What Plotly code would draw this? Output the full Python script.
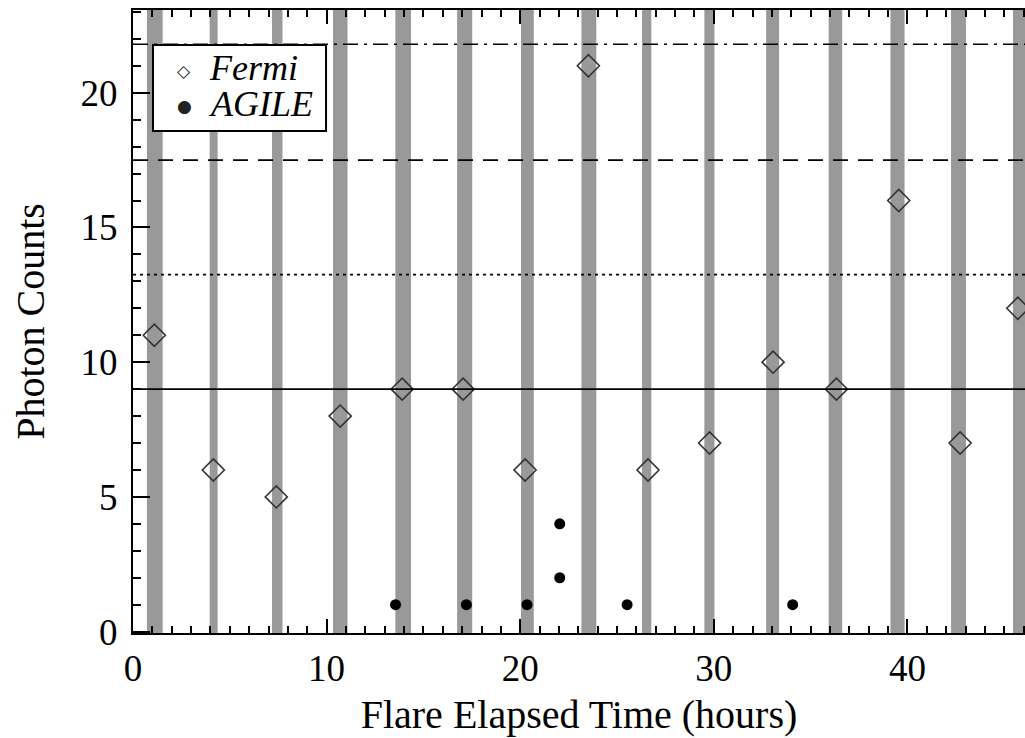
import plotly.graph_objects as go

# Fermi exposure windows (hours)
band_start = [0.72, 3.96, 7.18, 10.33, 13.55, 16.74, 20.04, 23.16, 26.29, 29.51, 32.70, 35.93, 39.12, 42.25, 45.45]
band_end = [1.53, 4.37, 7.72, 11.08, 14.36, 17.52, 20.70, 23.93, 26.77, 30.03, 33.37, 36.63, 39.85, 43.02, 46.30]

# Fermi photon counts
fermi_time = [1.10, 4.15, 7.40, 10.70, 13.90, 17.05, 20.25, 23.52, 26.60, 29.78, 33.06, 36.33, 39.55, 42.72, 45.70]
fermi_counts = [11, 6, 5, 8, 9, 9, 6, 21, 6, 7, 10, 9, 16, 7, 12]

# AGILE photon counts
agile_time = [13.56, 17.22, 20.35, 22.04, 22.04, 25.52, 34.07]
agile_counts = [1, 1, 1, 4, 2, 1, 1]

# reference levels
levels = [9.0, 13.25, 17.5, 21.8]
level_dash = ["solid", "3px,4px", "15px,10px", "15px,6px,3px,6px"]

x_range = [0, 46.07]
y_range = [-0.05, 23.07]
y_ticks = [0, 5, 10, 15, 20]
x_ticks = [0, 10, 20, 30, 40]

# legend entries
legend_names = ["Fermi", "AGILE"]
legend_glyphs = ["◇", "●"]

FONT = "Liberation Serif"

fig = go.Figure()

for s, e in zip(band_start, band_end):
    fig.add_vrect(x0=s, x1=e, fillcolor="#999999", opacity=1, line_width=0, layer="below")

for lv, d in zip(levels, level_dash):
    fig.add_hline(y=lv, line=dict(color="black", width=1.6, dash=d), layer="above")

fig.add_trace(go.Scatter(
    x=fermi_time, y=fermi_counts, mode="markers", showlegend=False, name="Fermi",
    marker=dict(symbol="diamond-open", size=17, color="#333333", line=dict(width=1.6, color="#333333")),
))
fig.add_trace(go.Scatter(
    x=agile_time, y=agile_counts, mode="markers", showlegend=False, name="AGILE",
    marker=dict(symbol="circle", size=11, color="black"),
))

# legend box
fig.add_shape(type="rect", xref="paper", yref="paper",
              x0=0.0224, x1=0.2164, y0=0.8058, y1=0.9438,
              line=dict(color="black", width=2), fillcolor="white", layer="above")
leg_y = [0.9021, 0.8459]
glyph_size = [17, 17]
for name, g, yy, gs in zip(legend_names, legend_glyphs, leg_y, glyph_size):
    fig.add_annotation(xref="paper", yref="paper", x=0.0574, y=yy, text=g, showarrow=False,
                       xanchor="center", yanchor="middle",
                       font=dict(family="DejaVu Sans", size=gs, color="#222222"))
    fig.add_annotation(xref="paper", yref="paper", x=0.0835, y=yy + 0.004, text=name, showarrow=False,
                       xanchor="left", yanchor="middle",
                       font=dict(family=FONT, size=36, color="black", style="italic"))

tickfont = dict(family=FONT, size=37, color="black")
minor_y = dict(dtick=1, ticklen=8, ticks="inside", tickwidth=2, tickcolor="black")

fig.update_layout(
    width=1025, height=738,
    margin=dict(l=133, r=0, t=10, b=105),
    plot_bgcolor="white", paper_bgcolor="white",
    showlegend=False,
    xaxis=dict(
        range=x_range, tickmode="array", tickvals=x_ticks, ticklen=14,
        ticks="inside", tickwidth=2, tickcolor="black",
        showline=True, linewidth=2, linecolor="black", mirror="ticks",
        showgrid=False, zeroline=False, tickfont=tickfont,
        minor=dict(dtick=1, ticklen=7, ticks="inside", tickwidth=2, tickcolor="black"),
        title=dict(text="Flare Elapsed Time (hours)", font=dict(family=FONT, size=40, color="black"), standoff=12),
        ticklabelstandoff=2,
    ),
    yaxis=dict(
        range=y_range, tickmode="array", tickvals=y_ticks, ticklen=17,
        ticks="inside", tickwidth=2, tickcolor="black",
        showline=True, linewidth=2, linecolor="black", mirror=False,
        showgrid=False, zeroline=False, tickfont=tickfont,
        minor=minor_y,
        title=dict(text="Photon Counts", font=dict(family=FONT, size=40, color="black"), standoff=24),
        ticklabelstandoff=6,
    ),
    yaxis2=dict(
        range=y_range, tickmode="array", tickvals=y_ticks, ticklen=17,
        overlaying="y", side="right", anchor="x",
        ticks="inside", tickwidth=2, tickcolor="black",
        showline=False, showticklabels=False,
        showgrid=False, zeroline=False,
        minor=minor_y,
    ),
)

fig.write_html("out.html")
